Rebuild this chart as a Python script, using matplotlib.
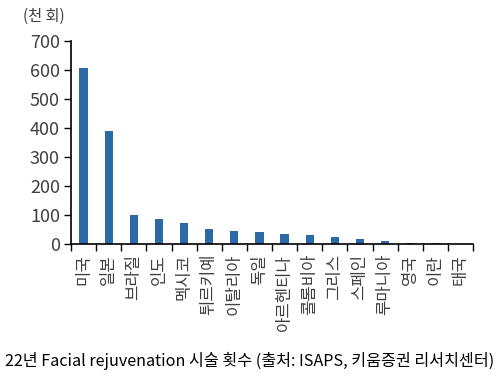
import numpy as np
import matplotlib
matplotlib.use('Agg')
import matplotlib.pyplot as plt

plt.rcParams['font.family'] = ['Noto Sans CJK KR', 'DejaVu Sans']

#------ data (천 회) ------#
countries = ['미국', '일본', '브라질', '인도', '멕시코', '튀르키예', '이탈리아', '독일',
             '아르헨티나', '콜롬비아', '그리스', '스페인', '루마니아', '영국', '이란', '태국']
values = [608, 388, 100, 85, 71, 53, 44, 42, 33, 30, 26, 19, 9, 5, 3, 1]
yticks = [0, 100, 200, 300, 400, 500, 600, 700]

fig = plt.figure(figsize=(5, 3.79), dpi=100)
ax = fig.add_axes([0.142, 0.356, 0.804, 0.536])

x = np.arange(len(countries))
ax.bar(x, values, width=0.33, color='#2e69a7')

ax.set_xlim(-0.5, len(countries) - 0.5)
ax.set_ylim(0, 700)
ax.set_yticks(yticks)
ax.set_yticklabels([str(v) for v in yticks], fontsize=13, color='#404040')

# ticks between categories, labels under each bar
ax.set_xticks(np.arange(-0.5, len(countries), 1.0))
ax.set_xticklabels([])
ax.set_xticks(x, minor=True)
ax.set_xticklabels(countries, minor=True, rotation=90, fontsize=12, color='#404040')
ax.tick_params(axis='x', which='minor', length=0, pad=7)
ax.tick_params(axis='x', which='major', direction='out', length=5, width=1)
ax.tick_params(axis='y', direction='out', length=5, width=1, pad=3)

for s in ['top', 'right']:
    ax.spines[s].set_visible(False)
for s in ['left', 'bottom']:
    ax.spines[s].set_linewidth(1.2)
    ax.spines[s].set_color('black')

fig.text(0.046, 0.958, '(천 회)', fontsize=11, color='#404040', va='center')
fig.text(0.01, 0.047, '22년 Facial rejuvenation 시술 횟수 (출처: ISAPS, 키움증권 리서치센터)',
         fontsize=11.6, color='black', va='center')

fig.savefig('out.png', dpi=100)
